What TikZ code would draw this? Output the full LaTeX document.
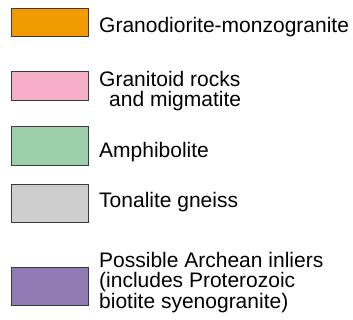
\documentclass[tikz,border=0pt]{standalone}
\usepackage{fontspec}
\setmainfont{Liberation Sans}
\usepackage{xcolor}
\usepackage{tikz}
\usetikzlibrary{positioning}
\definecolor{granodiorite}{HTML}{F29B00}
\definecolor{granitoid}{HTML}{F5ADC8}
\definecolor{amphibolite}{HTML}{9ECFAB}
\definecolor{tonalite}{HTML}{CDCDCD}
\definecolor{archean}{HTML}{8F7BB4}
\definecolor{edge}{HTML}{3A3A3A}

\begin{document}
\begin{tikzpicture}[x=1pt, y=-1pt,
    swatch/.style={rectangle, draw=edge, line width=1pt, minimum width=77pt, inner sep=0pt},
    legtext/.style={anchor=base west, inner sep=0pt, align=left, font=\fontsize{21}{20.5}\selectfont}
]
    \useasboundingbox (0,0) rectangle (353,320);

    \node[swatch, fill=granodiorite, minimum height=28pt] (sw1) at (49.5,23) {};
    \node[swatch, fill=granitoid, minimum height=28.5pt] (sw2) at (49.5,86.2) {};
    \node[swatch, fill=amphibolite, minimum height=39pt] (sw3) at (49.5,146.5) {};
    \node[swatch, fill=tonalite, minimum height=38.5pt] (sw4) at (49.5,203.5) {};
    \node[swatch, fill=archean, minimum height=38.5pt] (sw5) at (49.5,286.5) {};

    % base of a multi-line label is its last line
    \node[legtext] (lb1) at (99,33) {Granodiorite-monzogranite};
    \node[legtext] (lb2) at (99,107) {Granitoid rocks\\\hspace*{10pt}and migmatite};
    \node[legtext] (lb3) at (99,158) {Amphibolite};
    \node[legtext] (lb4) at (99,208) {Tonalite gneiss};
    \node[legtext] (lb5) at (99,308) {Possible Archean inliers\\(includes Proterozoic\\biotite syenogranite)};
\end{tikzpicture}
\end{document}
